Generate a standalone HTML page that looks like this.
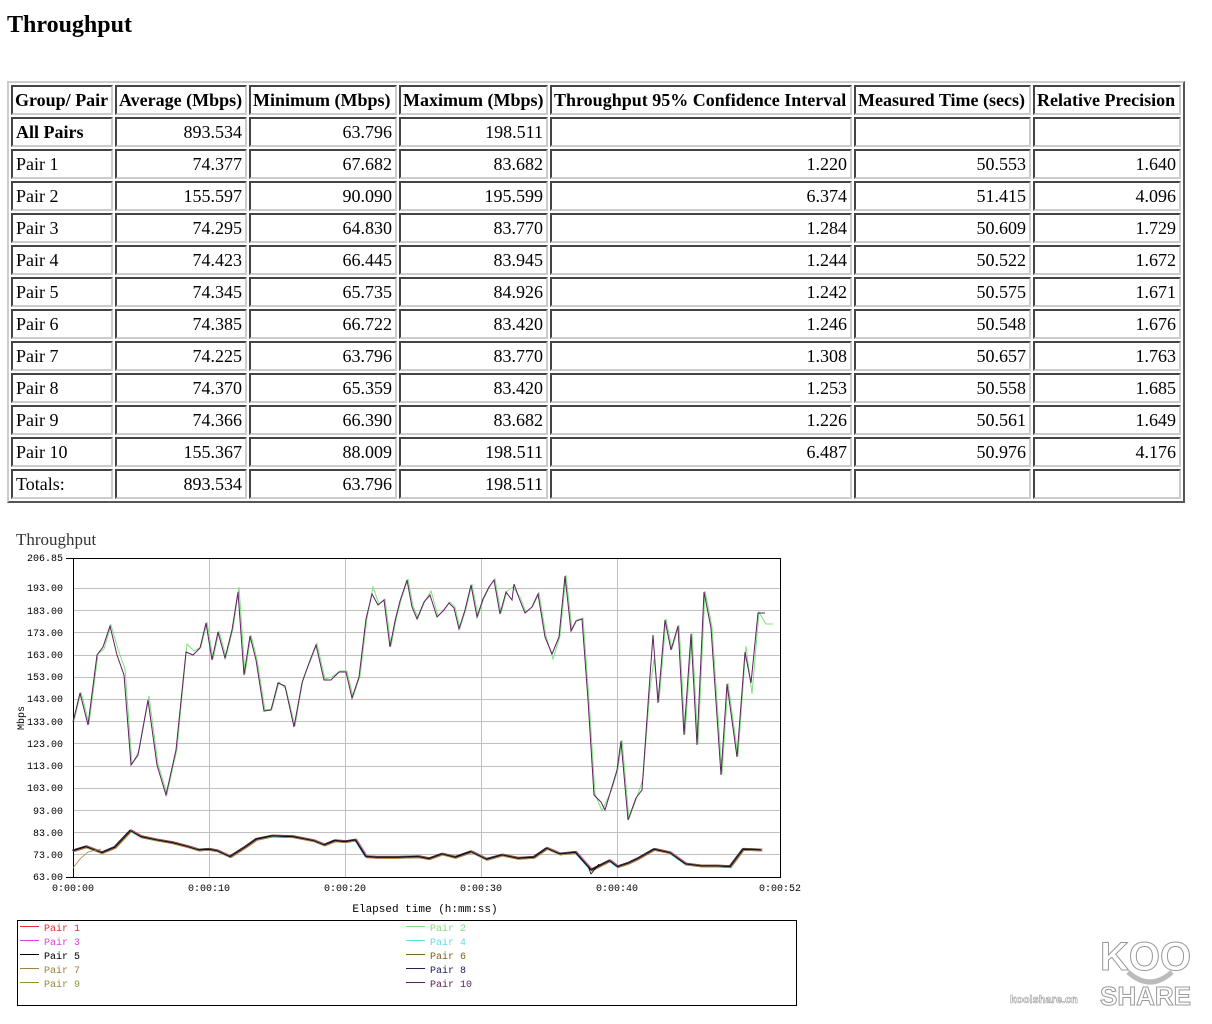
<!DOCTYPE html>
<html><head><meta charset="utf-8">
<style>
body{margin:0;background:#fff;width:1212px;height:1024px;overflow:hidden;position:relative;font-family:"Liberation Serif",serif;}
h1{position:absolute;left:7px;top:12px;margin:0;font-size:24px;font-weight:bold;}
table{position:absolute;left:7px;top:81px;border-collapse:separate;border-spacing:2px;border:2px solid;border-color:#ccc #555 #555 #ccc;table-layout:fixed;}
td{box-sizing:border-box;height:30px;border:2px solid;border-color:#444 #ccc #ccc #444;padding:0 3px;font-size:18px;text-align:right;white-space:nowrap;line-height:24px;}
td:first-child{text-align:left;}
tr.h td{font-weight:bold;text-align:left;padding:0 2px;}
.b{font-weight:bold;}
svg{position:absolute;left:0;top:0;}
</style></head><body>
<h1>Throughput</h1>
<table>
<colgroup><col style="width:102px"><col style="width:132px"><col style="width:148px"><col style="width:149px"><col style="width:302px"><col style="width:177px"><col style="width:148px"></colgroup>
<tr class="h"><td>Group/ Pair</td><td>Average (Mbps)</td><td>Minimum (Mbps)</td><td>Maximum (Mbps)</td><td>Throughput 95% Confidence Interval</td><td>Measured Time (secs)</td><td>Relative Precision</td></tr>
<tr><td class="b">All Pairs</td><td>893.534</td><td>63.796</td><td>198.511</td><td></td><td></td><td></td></tr>
<tr><td>Pair 1</td><td>74.377</td><td>67.682</td><td>83.682</td><td>1.220</td><td>50.553</td><td>1.640</td></tr>
<tr><td>Pair 2</td><td>155.597</td><td>90.090</td><td>195.599</td><td>6.374</td><td>51.415</td><td>4.096</td></tr>
<tr><td>Pair 3</td><td>74.295</td><td>64.830</td><td>83.770</td><td>1.284</td><td>50.609</td><td>1.729</td></tr>
<tr><td>Pair 4</td><td>74.423</td><td>66.445</td><td>83.945</td><td>1.244</td><td>50.522</td><td>1.672</td></tr>
<tr><td>Pair 5</td><td>74.345</td><td>65.735</td><td>84.926</td><td>1.242</td><td>50.575</td><td>1.671</td></tr>
<tr><td>Pair 6</td><td>74.385</td><td>66.722</td><td>83.420</td><td>1.246</td><td>50.548</td><td>1.676</td></tr>
<tr><td>Pair 7</td><td>74.225</td><td>63.796</td><td>83.770</td><td>1.308</td><td>50.657</td><td>1.763</td></tr>
<tr><td>Pair 8</td><td>74.370</td><td>65.359</td><td>83.420</td><td>1.253</td><td>50.558</td><td>1.685</td></tr>
<tr><td>Pair 9</td><td>74.366</td><td>66.390</td><td>83.682</td><td>1.226</td><td>50.561</td><td>1.649</td></tr>
<tr><td>Pair 10</td><td>155.367</td><td>88.009</td><td>198.511</td><td>6.487</td><td>50.976</td><td>4.176</td></tr>
<tr><td>Totals:</td><td>893.534</td><td>63.796</td><td>198.511</td><td></td><td></td><td></td></tr>
</table>

<svg width="1212" height="1024" style="top:0;left:0" font-family="Liberation Mono, monospace">
<text x="16" y="545" font-size="17" font-family="Liberation Serif, serif" fill="#333">Throughput</text>
<g stroke="#c0c0c0" stroke-width="1">
<line x1="73" x2="780" y1="588.5" y2="588.5"/><line x1="73" x2="780" y1="610.5" y2="610.5"/>
<line x1="73" x2="780" y1="632.5" y2="632.5"/><line x1="73" x2="780" y1="655.5" y2="655.5"/>
<line x1="73" x2="780" y1="677.5" y2="677.5"/><line x1="73" x2="780" y1="699.5" y2="699.5"/>
<line x1="73" x2="780" y1="721.5" y2="721.5"/><line x1="73" x2="780" y1="743.5" y2="743.5"/>
<line x1="73" x2="780" y1="766.5" y2="766.5"/><line x1="73" x2="780" y1="788.5" y2="788.5"/>
<line x1="73" x2="780" y1="810.5" y2="810.5"/><line x1="73" x2="780" y1="832.5" y2="832.5"/>
<line x1="73" x2="780" y1="854.5" y2="854.5"/>
<line x1="209.5" x2="209.5" y1="558" y2="877"/><line x1="345.5" x2="345.5" y1="558" y2="877"/>
<line x1="481.5" x2="481.5" y1="558" y2="877"/><line x1="617.5" x2="617.5" y1="558" y2="877"/>
</g>
<rect x="73.5" y="558.5" width="707" height="319" fill="none" stroke="#000"/>
<g font-size="10" fill="#000" text-anchor="end">
<text x="63" y="561">206.85</text><text x="63" y="591">193.00</text><text x="63" y="614">183.00</text>
<text x="63" y="636">173.00</text><text x="63" y="658">163.00</text><text x="63" y="680">153.00</text>
<text x="63" y="702">143.00</text><text x="63" y="725">133.00</text><text x="63" y="747">123.00</text>
<text x="63" y="769">113.00</text><text x="63" y="791">103.00</text><text x="63" y="814">93.00</text>
<text x="63" y="836">83.00</text><text x="63" y="858">73.00</text><text x="63" y="880">63.00</text>
</g>
<g stroke="#000"><line x1="66" x2="73" y1="558.5" y2="558.5"/><line x1="66" x2="73" y1="877.5" y2="877.5"/></g>
<g font-size="10" text-anchor="middle">
<text x="73" y="891">0:00:00</text><text x="209" y="891">0:00:10</text><text x="345" y="891">0:00:20</text>
<text x="481" y="891">0:00:30</text><text x="617" y="891">0:00:40</text><text x="780" y="891">0:00:52</text>
<text x="425" y="912" font-size="11">Elapsed time (h:mm:ss)</text>
</g>
<text transform="translate(24,718) rotate(-90)" font-size="10" text-anchor="middle">Mbps</text>

<defs>
<polyline id="lo" fill="none" points="73,850.7 86.1,846.7 101.8,852.7 114.9,847.3 130.6,830.7 141.1,836.7 156.8,840 172.5,842.7 188.2,846.7 198.7,850 209.1,849.3 217,850.7 230.1,856.7 245.8,846.7 256.2,839.3 272,836 292.9,836.7 313.8,840.7 324.3,845 334.8,840.7 345.2,841.7 355.7,840 366.2,856.7 376.7,857.3 397.6,857.3 418.6,856.7 429,858.7 442.1,854 455.2,857.3 470.9,851.7 486.6,859.3 502.3,855 518,858.3 533.7,857.3 546.8,848.3 559.9,854 575.6,852.3 591.3,870 599.1,866 609.6,860.7 617.5,866.7 628,863.3 638.4,858.3 654.2,849.3 669.9,852.7 685.6,864 701.3,866 717,866 730.1,866.7 743.2,849.3 761.5,850"/>
</defs>
<g fill="none" stroke-width="0.8">
<use href="#lo" stroke="#e03030" transform="translate(0,1)"/>
<use href="#lo" stroke="#e040e0" transform="translate(1,-1)"/>
<use href="#lo" stroke="#60e0e0" transform="translate(-1,0.5)"/>
<use href="#lo" stroke="#806020" transform="translate(0,-1)"/>
<use href="#lo" stroke="#a08040" transform="translate(1,1)"/>
<use href="#lo" stroke="#202060" transform="translate(-1,-0.5)"/>
<use href="#lo" stroke="#909030" transform="translate(0.5,0)"/>
<use href="#lo" stroke="#000" transform="translate(0,0)"/>
<polyline stroke="#a08040" points="73,868 80,859 88,852 101,849"/>
<polyline stroke="#000" points="588,866 591,874 599,864"/>
</g>
<g fill="none" stroke-width="1">
<polyline stroke="#80e080" transform="translate(1,-1)" points="73,722 80,693 88,725 97,655 103,650 110,626 117,650 124,670 131,765 138,752 148,697 157,765 166,795 176,750 186,645 193,652 200,648 206,623 212,660 218,632 225,658 232,630 238,588 244,675 250,636 256,660 264,711 271,710 278,683 285,690 294,727 302,680 309,663 316,645 324,680 331,678 339,672 346,672 352,698 359,677 366,619 372,588 378,605 384,600 390,647 395,621 400,601 407,580 412,607 417,619 424,602 430,592 437,617 443,611 449,603 454,608 459,629 465,610 471,585 477,617 483,599 489,587 494,580 500,614 506,592 512,588 519,598 525,613 532,607 538,594 545,637 552,660 559,637 565,576 571,631 576,621 582,619 588,700 594,795 601,812 611,790 617,770 621,741 628,820 636,798 642,780 649,690 653,660 658,703 665,620 671,650 678,626 684,735 691,634 697,745 704,592 711,628 721,775 727,684 737,757 745,647 751,695 758,613 765,625 772,625"/>
<polyline stroke="#602060" points="73,722 80,693 88,725 97,655 103,647 110,626 117,655 124,675 131,765 138,755 148,700 157,765 166,795 176,750 186,652 193,655 200,648 206,623 212,660 218,632 225,658 232,630 238,592 244,675 250,636 256,660 264,711 271,710 278,683 285,686 294,727 302,683 309,663 316,645 324,680 331,680 339,672 346,672 352,698 359,677 366,619 372,594 378,605 384,600 390,647 395,621 400,601 407,580 412,607 417,619 424,602 430,595 437,617 443,611 449,603 454,608 459,629 465,610 471,585 477,617 483,599 489,587 494,580 500,614 506,592 512,600 514,584 519,598 525,613 532,607 538,594 545,637 552,654 559,637 565,576 571,631 576,621 582,619 588,700 594,795 601,802 605,810 611,790 617,770 621,741 628,820 636,798 642,790 649,690 653,635 658,703 665,620 671,650 678,626 684,735 691,634 697,745 704,592 711,628 721,775 727,684 737,757 745,652 751,683 758,613 765,613"/>
</g>

<rect x="17.5" y="920.5" width="779" height="85" fill="none" stroke="#000"/>
<g font-size="10">
<line x1="20" x2="39" y1="926.5" y2="926.5" stroke="#e03030"/><text x="44" y="931" fill="#e03030">Pair 1</text>
<line x1="20" x2="39" y1="940.5" y2="940.5" stroke="#e040e0"/><text x="44" y="945" fill="#e040e0">Pair 3</text>
<line x1="20" x2="39" y1="954.5" y2="954.5" stroke="#000"/><text x="44" y="959" fill="#000">Pair 5</text>
<line x1="20" x2="39" y1="968.5" y2="968.5" stroke="#a08040"/><text x="44" y="973" fill="#a08040">Pair 7</text>
<line x1="20" x2="39" y1="982.5" y2="982.5" stroke="#909030"/><text x="44" y="987" fill="#909030">Pair 9</text>
<line x1="406" x2="425" y1="926.5" y2="926.5" stroke="#80e080"/><text x="430" y="931" fill="#80e080">Pair 2</text>
<line x1="406" x2="425" y1="940.5" y2="940.5" stroke="#60e0e0"/><text x="430" y="945" fill="#60e0e0">Pair 4</text>
<line x1="406" x2="425" y1="954.5" y2="954.5" stroke="#806020"/><text x="430" y="959" fill="#806020">Pair 6</text>
<line x1="406" x2="425" y1="968.5" y2="968.5" stroke="#202060"/><text x="430" y="973" fill="#202060">Pair 8</text>
<line x1="406" x2="425" y1="982.5" y2="982.5" stroke="#602060"/><text x="430" y="987" fill="#602060">Pair 10</text>
</g>

<g font-family="Liberation Sans, sans-serif" font-weight="bold" fill="#fff" stroke="#999" stroke-width="1">
<text x="1100" y="970" font-size="40">KOO</text>
<path d="M1128,972 Q1150,992 1172,972" stroke="#bbb" stroke-width="5" fill="none"/>
<text x="1100" y="1005" font-size="26">SHARE</text>
<text x="1010" y="1003" font-size="11" stroke-width="0.6">koolshare.cn</text>
</g>
</svg>
</body></html>
